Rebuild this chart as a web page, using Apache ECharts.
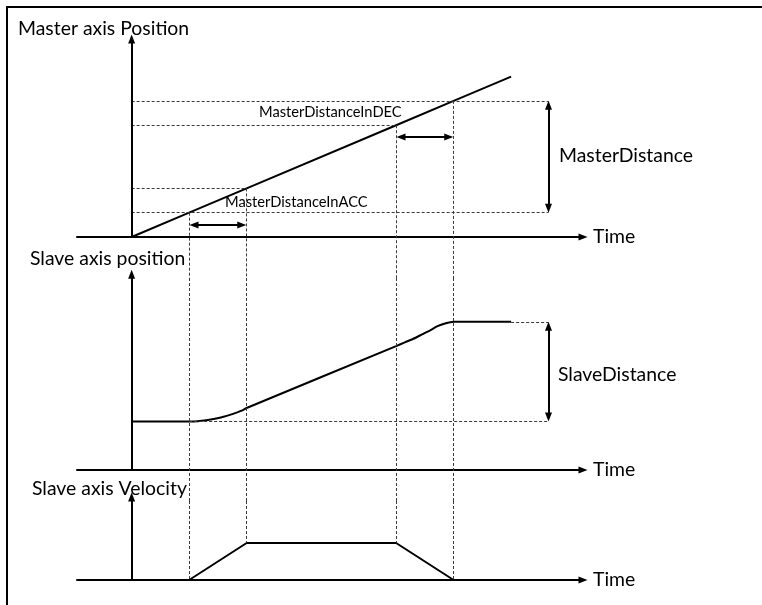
<!DOCTYPE html>
<html><head><meta charset="utf-8">
<script src="https://cdn.jsdelivr.net/npm/echarts@6.0.0/dist/echarts.min.js"></script>
<style>html,body{margin:0;padding:0;background:#fff}#c{width:762px;height:605px}</style>
</head><body><div id="c"></div>
<script>
// ---- data (abstract time / position units) ----
const timeKeys   = [0, 10, 20, 46, 56, 66];          // start, ACC start, ACC end, DEC start, DEC end, end
const masterPos  = [0, 10, 20, 46, 56, 66];          // master axis position at those instants
const slaveTimes = [0, 10, 11.5, 13, 14.5, 16, 17.5, 19, 20, 46, 47.5, 49, 50.5, 52, 53.2, 54.5, 56, 66];
const slavePos   = [20, 20, 20.1, 20.5, 21.1, 21.9, 23.0, 24.3, 25.5, 51, 52.5, 54, 55.8, 57.6, 59.2, 60.3, 61, 61];
const velTimes   = [0, 10, 20, 46, 56, 66];
const slaveVel   = [0, 0, 1, 1, 0, 0];
const distanceT  = 72.5;   // time position of the distance dimension arrows
const accArrowY  = 4.9;    // master position level of the ACC dimension arrow
const decArrowY  = 41.2;   // master position level of the DEC dimension arrow
const texts = {
  masterTitle: 'Master axis Position', slaveTitle: 'Slave axis position', velTitle: 'Slave axis Velocity',
  dec: 'MasterDistanceInDEC', acc: 'MasterDistanceInACC', masterDist: 'MasterDistance',
  slaveDist: 'SlaveDistance', time: 'Time'
};

// ---- layout ----
const X_MIN = -9.5, X_MAX = 78.5;
const kPos = 2.43, kVel = 37;                 // px per unit
const zero = [237, 470, 580];                 // pixel rows of the three time axes
const split = [278, 501];                     // pixel rows where one panel hands over to the next
const axisTop = [81.5, 80.6, 2.245];          // where the vertical axis arrows end (also axis max)
const k = [kPos, kPos, kVel];
const bottoms = [split[0], split[1], zero[2]];
const tops = axisTop.map((v, i) => zero[i] - v * k[i]);
const mins = bottoms.map((b, i) => -(b - zero[i]) / k[i]);
const guideTop1 = (zero[1] - split[0]) / kPos;     // value at top of slave band
const guideTop2 = (zero[2] - split[1]) / kVel;     // value at top of velocity band
const padX = 0.85, padY = 1.8;   // pull arrow tips onto the guide lines
const FONT = 'Lato';
const BIG = 19.4, SMALL = 14.7;
const solid = {color: '#000', width: 2, type: 'solid'};
const dash = {color: '#3a3a3a', width: 1, type: [3, 2]};

const [tS, tA0, tA1, tD0, tD1, tE] = timeKeys;
const mAt = t => masterPos[timeKeys.indexOf(t)];
const sStart = slavePos[0], sEnd = slavePos[slavePos.length - 1];

function seg(a, b) { return [{coord: a}, {coord: b}]; }
function xAxisFor(i) {
  return {
    type: 'value', gridIndex: i, min: X_MIN, max: X_MAX,
    axisLine: {show: true, onZero: true, symbol: ['none', 'triangle'], symbolSize: [7, 9],
      lineStyle: {color: '#000', width: 2}},
    axisTick: {show: false}, axisLabel: {show: false}, splitLine: {show: false},
    name: texts.time, nameLocation: 'end', nameGap: 10,
    nameTextStyle: {fontFamily: FONT, fontSize: BIG, color: '#000', align: 'left', verticalAlign: 'middle'}
  };
}
function yAxisFor(i) {
  return {type: 'value', gridIndex: i, min: mins[i], max: axisTop[i],
    axisLine: {show: false}, axisTick: {show: false}, axisLabel: {show: false}, splitLine: {show: false}};
}
function dashSeries(i, lines) {
  return {type: 'line', xAxisIndex: i, yAxisIndex: i, data: [], silent: true, clip: false,
    markLine: {silent: true, symbol: 'none', label: {show: false}, lineStyle: dash, animation: false, data: lines}};
}
function arrowSeries(i, lines, sym) {
  return {type: 'line', xAxisIndex: i, yAxisIndex: i, data: [], silent: true, clip: false,
    markLine: {silent: true, symbol: sym, symbolSize: [7, 9], label: {show: false},
      lineStyle: {color: '#000', width: 2, type: 'solid'}, animation: false, data: lines}};
}
function text(t, x, y, size) {
  return {type: 'text', x: x, y: y, style: {text: t, fontFamily: FONT, fontSize: size, fill: '#000',
    textAlign: 'left', textVerticalAlign: 'middle', align: 'left', verticalAlign: 'middle'}};
}

const option = {
  animation: false,
  grid: [0, 1, 2].map(i => ({left: 77, right: 179, top: tops[i], height: bottoms[i] - tops[i], outerBoundsMode: 'none'})),
  xAxis: [xAxisFor(0), xAxisFor(1), xAxisFor(2)],
  yAxis: [yAxisFor(0), yAxisFor(1), yAxisFor(2)],
  series: [
    // master position
    {type: 'line', xAxisIndex: 0, yAxisIndex: 0, showSymbol: false, symbol: 'none', clip: false,
      lineStyle: solid, data: timeKeys.map((t, i) => [t, masterPos[i]])},
    dashSeries(0, [
      seg([tS, mAt(tD1)], [distanceT, mAt(tD1)]),
      seg([tS, mAt(tD0)], [tD0, mAt(tD0)]),
      seg([tS, mAt(tA1)], [tA1, mAt(tA1)]),
      seg([tS, mAt(tA0)], [distanceT, mAt(tA0)]),
      seg([tA0, mAt(tA0)], [tA0, mins[0]]),
      seg([tA1, mAt(tA1)], [tA1, mins[0]]),
      seg([tD0, mAt(tD0)], [tD0, mins[0]]),
      seg([tD1, mAt(tD1)], [tD1, mins[0]])
    ]),
    arrowSeries(0, [seg([tS, 0], [tS, axisTop[0]])], ['none', 'triangle']),
    arrowSeries(0, [
      seg([tA0 + padX, accArrowY], [tA1 - padX, accArrowY]),
      seg([tD0 + padX, decArrowY], [tD1 - padX, decArrowY]),
      seg([distanceT, mAt(tD1) - padY], [distanceT, mAt(tA0) + padY])
    ], ['triangle', 'triangle']),
    // slave position
    {type: 'line', xAxisIndex: 1, yAxisIndex: 1, showSymbol: false, symbol: 'none', clip: false,
      smooth: 0.2, lineStyle: solid, data: slaveTimes.map((t, i) => [t, slavePos[i]])},
    dashSeries(1, [
      seg([tA0, sStart], [distanceT, sStart]),
      seg([tE, sEnd], [distanceT, sEnd]),
      seg([tA0, guideTop1], [tA0, mins[1]]),
      seg([tA1, guideTop1], [tA1, mins[1]]),
      seg([tD0, guideTop1], [tD0, mins[1]]),
      seg([tD1, guideTop1], [tD1, mins[1]])
    ]),
    arrowSeries(1, [seg([tS, 0], [tS, axisTop[1]])], ['none', 'triangle']),
    arrowSeries(1, [seg([distanceT, sEnd - padY], [distanceT, sStart + padY])], ['triangle', 'triangle']),
    // slave velocity
    {type: 'line', xAxisIndex: 2, yAxisIndex: 2, showSymbol: false, symbol: 'none', clip: false,
      lineStyle: solid, data: velTimes.map((t, i) => [t, slaveVel[i]])},
    dashSeries(2, [
      seg([tA0, guideTop2], [tA0, slaveVel[1]]),
      seg([tA1, guideTop2], [tA1, slaveVel[2]]),
      seg([tD0, guideTop2], [tD0, slaveVel[3]]),
      seg([tD1, guideTop2], [tD1, slaveVel[4]])
    ]),
    arrowSeries(2, [seg([tS, 0], [tS, axisTop[2]])], ['none', 'triangle'])
  ],
  graphic: [
    {type: 'polyline', shape: {points: [[7, 605], [7, 7], [762, 7]]}, style: {stroke: '#000', lineWidth: 2, fill: null}},
    text(texts.masterTitle, 18, 29, BIG),
    text(texts.dec, 259, 112, SMALL),
    text(texts.acc, 225, 202.5, SMALL),
    text(texts.masterDist, 559, 156, BIG),
    text(texts.slaveTitle, 30, 258.5, BIG),
    text(texts.slaveDist, 558, 375, BIG),
    text(texts.velTitle, 32, 489, BIG)
  ]
};
const chart = echarts.init(document.getElementById('c'));
chart.setOption(option);
</script>
</body></html>
